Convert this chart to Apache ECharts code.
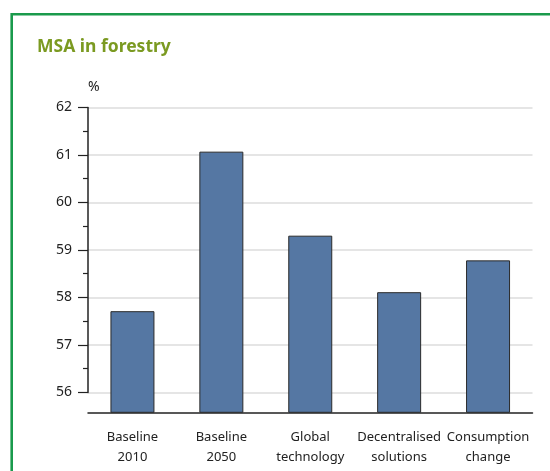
<!DOCTYPE html>
<html>
<head>
<meta charset="utf-8">
<script src="https://cdn.jsdelivr.net/npm/echarts@6/dist/echarts.min.js"></script>
<style>
  html, body { margin: 0; padding: 0; background: #fff; }
  #chart { width: 550px; height: 471px; }
</style>
</head>
<body>
<div id="chart"></div>
<script>
// data
var categories = ['Baseline\n2010', 'Baseline\n2050', 'Global\ntechnology', 'Decentralised\nsolutions', 'Consumption\nchange'];
var msaValues = [57.71, 61.07, 59.30, 58.11, 58.78];
var yLabelMin = 56, yLabelMax = 62;

var myChart = echarts.init(document.getElementById('chart'), null, {renderer: 'canvas'});

var fontFam = '"Noto Sans", "Open Sans", sans-serif';

option = {
    animation: false,
    textStyle: { fontFamily: fontFam },
    title: {
        text: 'MSA in forestry',
        left: 32,
        top: 33,
        textStyle: { color: '#7b9a21', fontSize: 17.5, fontWeight: 'bold', fontFamily: fontFam }
    },
    graphic: [
        // green frame, runs off the right and bottom edge
        {
            type: 'rect',
            shape: { x: 11.7, y: 14.3, width: 700, height: 700 },
            style: { fill: null, stroke: '#1a9a4c', lineWidth: 2.6 },
            silent: true
        },
        {
            type: 'text',
            left: 88,
            top: 80,
            style: { text: '%', fill: '#222', fontSize: 14, fontFamily: fontFam }
        }
    ],
    grid: [
        // bars grid, down to the x axis
        { left: 88, right: 17.5, top: 107.5, bottom: 58.7 },
        // labelled axis grid, 56 to 62 only
        { left: 88, right: 17.5, top: 107.5, bottom: 78.6 }
    ],
    xAxis: [
        {
            gridIndex: 0,
            type: 'category',
            data: categories,
            axisLine: { lineStyle: { color: '#222', width: 1.5 } },
            axisTick: { show: false },
            axisLabel: { color: '#222', fontSize: 13, lineHeight: 20, margin: 15, interval: 0 }
        },
        {
            gridIndex: 1,
            type: 'category',
            data: categories,
            show: false
        }
    ],
    yAxis: [
        {
            gridIndex: 0,
            type: 'value',
            min: 55.58,
            max: yLabelMax,
            show: false
        },
        {
            gridIndex: 1,
            type: 'value',
            min: yLabelMin,
            max: yLabelMax,
            interval: 1,
            axisLine: { show: true, lineStyle: { color: '#222', width: 1.5 } },
            axisTick: { show: true, length: 10, lineStyle: { color: '#222', width: 1.2 } },
            minorTick: { show: true, splitNumber: 2, length: 5, lineStyle: { color: '#222', width: 1.2 } },
            axisLabel: { color: '#222', fontSize: 14, margin: 16 },
            splitLine: { show: true, lineStyle: { color: '#dcdcdc', width: 1.5 } }
        }
    ],
    series: [{
        name: 'MSA',
        type: 'bar',
        xAxisIndex: 0,
        yAxisIndex: 0,
        data: msaValues,
        barWidth: 44,
        itemStyle: { color: '#5577a3', borderColor: '#2b2b2b', borderWidth: 1 },
        z: 5
    }]
};

myChart.setOption(option);
</script>
</body>
</html>
